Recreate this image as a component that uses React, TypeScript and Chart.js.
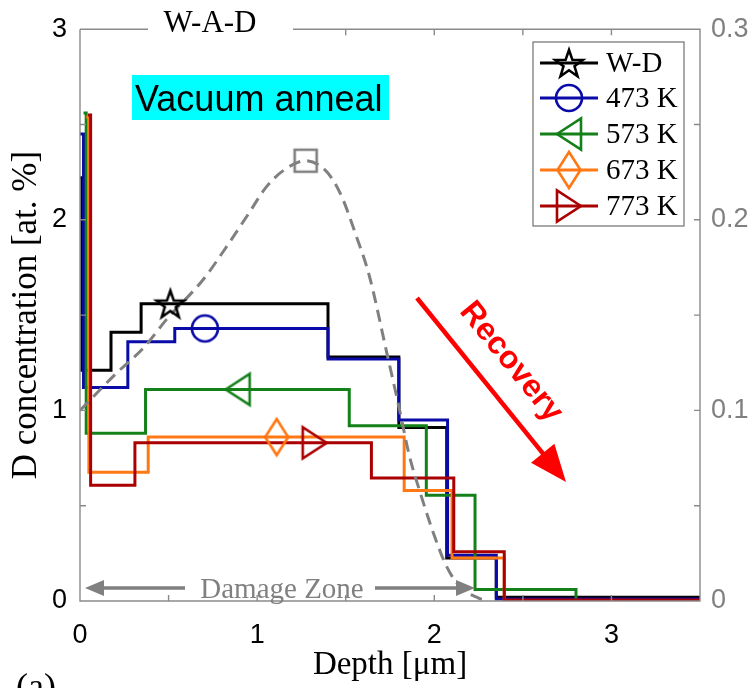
import React, { useEffect, useRef } from 'react';
import { Chart, registerables } from 'chart.js';

Chart.register(...registerables);

// ---------- data ----------
// depth bin edges [µm] and D concentration levels [at. %]
const wdEdges = [0.0, 0.01, 0.175, 0.345, 1.4, 1.8, 2.07, 2.35, 3.5];
const wdLevels = [2.22, 1.21, 1.41, 1.56, 1.28, 0.91, 0.225, 0.02];
const k473Edges = [0.0, 0.02, 0.27, 0.535, 1.4, 1.8, 2.075, 2.35, 3.5];
const k473Levels = [2.45, 1.12, 1.36, 1.43, 1.27, 0.95, 0.24, 0.01];
const k573Edges = [0.02, 0.035, 0.37, 1.52, 1.955, 2.23, 2.8, 3.5];
const k573Levels = [2.56, 0.88, 1.11, 0.92, 0.555, 0.06, 0.0];
const k673Edges = [0.035, 0.05, 0.385, 1.83, 2.1, 2.395, 3.5];
const k673Levels = [2.54, 0.675, 0.86, 0.58, 0.225, 0.0];
const k773Edges = [0.045, 0.06, 0.31, 1.645, 2.11, 2.395, 3.5];
const k773Levels = [2.55, 0.607, 0.83, 0.645, 0.258, 0.005];

const seriesNames = ['W-D', '473 K', '573 K', '673 K', '773 K'];
const seriesColors = ['#000000', '#0a0aa8', '#13801a', '#ff7814', '#aa0000'];
const markerKinds = ['star', 'circle', 'triLeft', 'diamond', 'triRight'];
const markerDepth = [0.51, 0.705, 0.89, 1.11, 1.325];
const markerConc = [1.56, 1.43, 1.11, 0.86, 0.83];

// damage profile (right axis)
const damageDepth = [0, 0.2, 0.36, 0.5, 0.69, 0.85, 0.95, 1.05, 1.15, 1.274, 1.36, 1.42, 1.48, 1.55, 1.635, 1.73, 1.8, 1.86, 1.92, 1.99, 2.07, 2.15, 2.25, 2.3];
const damageValue = [0.1, 0.119, 0.133, 0.149, 0.168, 0.189, 0.203, 0.217, 0.226, 0.231, 0.228, 0.222, 0.2117, 0.194, 0.17, 0.131, 0.102, 0.076, 0.057, 0.037, 0.018, 0.007, 0.0015, 0];
const damagePeakDepth = [1.274];
const damagePeakValue = [0.231];

const xTicks = { min: 0, max: 3.5, step: 0.5 };
const yTicks = { min: 0, max: 3, step: 0.5 };
const y2Ticks = { min: 0, max: 0.3, step: 0.05 };

const SERIF = '"Liberation Serif", "DejaVu Serif", serif';
const SANS = '"Liberation Sans", Arial, sans-serif';
const GRAY = '#808080';
const FRAME = '#8a8a8a';

function makeMarker(kind: string, color: string): HTMLCanvasElement {
  const S = 44;
  const c = document.createElement('canvas');
  c.width = S;
  c.height = S;
  const g = c.getContext('2d')!;
  g.translate(S / 2, S / 2);
  g.strokeStyle = color;
  g.lineWidth = 2.6;
  g.beginPath();
  switch (kind) {
    case 'star': {
      const R = 14.5;
      const r = R * 0.4;
      for (let i = 0; i < 10; i++) {
        const a = -Math.PI / 2 + (i * Math.PI) / 5;
        const rad = i % 2 === 0 ? R : r;
        const px = Math.cos(a) * rad;
        const py = Math.sin(a) * rad + 1.5;
        if (i === 0) g.moveTo(px, py);
        else g.lineTo(px, py);
      }
      g.closePath();
      break;
    }
    case 'circle':
      g.arc(0, 0, 13, 0, Math.PI * 2);
      break;
    case 'triLeft':
      g.moveTo(-12, 0);
      g.lineTo(12, -15.5);
      g.lineTo(12, 15.5);
      g.closePath();
      break;
    case 'triRight':
      g.moveTo(12, 0);
      g.lineTo(-12, -15.5);
      g.lineTo(-12, 15.5);
      g.closePath();
      break;
    case 'diamond':
      g.moveTo(0, -18);
      g.lineTo(11.5, 0);
      g.lineTo(0, 18);
      g.lineTo(-11.5, 0);
      g.closePath();
      break;
    case 'square':
      g.rect(-11, -11, 22, 22);
      break;
  }
  g.stroke();
  return c;
}

function stepData(edges: number[], levels: number[]) {
  const pts = levels.map((l, i) => ({ x: edges[i], y: l }));
  pts.push({ x: edges[edges.length - 1], y: levels[levels.length - 1] });
  return pts;
}

function arrowHead(ctx: CanvasRenderingContext2D, tx: number, ty: number, dx: number, dy: number, len: number, half: number) {
  const nx = -dy;
  const ny = dx;
  ctx.beginPath();
  ctx.moveTo(tx, ty);
  ctx.lineTo(tx - dx * len + nx * half, ty - dy * len + ny * half);
  ctx.lineTo(tx - dx * len - nx * half, ty - dy * len - ny * half);
  ctx.closePath();
  ctx.fill();
}

export default function App() {
  const ref = useRef<HTMLCanvasElement>(null);

  useEffect(() => {
    const canvas = ref.current!;
    const markers = markerKinds.map((k, i) => makeMarker(k, seriesColors[i]));
    const square = makeMarker('square', GRAY);

    const edgesList = [wdEdges, k473Edges, k573Edges, k673Edges, k773Edges];
    const levelsList = [wdLevels, k473Levels, k573Levels, k673Levels, k773Levels];

    const lineSets: any[] = seriesNames.map((name, i) => ({
      label: name,
      data: stepData(edgesList[i], levelsList[i]),
      borderColor: seriesColors[i],
      borderWidth: 3,
      pointRadius: 0,
      stepped: true,
      fill: false,
      yAxisID: 'y',
      order: 10 - i,
    }));

    const markerSet: any = {
      label: 'markers',
      data: markerDepth.map((x, i) => ({ x, y: markerConc[i] })),
      showLine: false,
      pointStyle: markers,
      pointRadius: 14,
      yAxisID: 'y',
      order: -1,
    };

    const damageSet: any = {
      label: 'damage',
      data: damageDepth.map((x, i) => ({ x, y: damageValue[i] })),
      borderColor: GRAY,
      borderWidth: 3,
      borderDash: [12, 7],
      pointRadius: 0,
      cubicInterpolationMode: 'monotone',
      yAxisID: 'y2',
      order: 0,
    };
    const peakSet: any = {
      label: 'peak',
      data: damagePeakDepth.map((x, i) => ({ x, y: damagePeakValue[i] })),
      showLine: false,
      pointStyle: square,
      pointRadius: 12,
      yAxisID: 'y2',
      order: -2,
    };

    const annot = {
      id: 'annot',
      afterDraw(chart: any) {
        const { ctx, chartArea: a, scales } = chart;
        const gapL = 148;
        const gapR = 293;
        ctx.save();
        // frame
        ctx.strokeStyle = FRAME;
        ctx.lineWidth = 1.4;
        ctx.beginPath();
        ctx.moveTo(a.left, a.top);
        ctx.lineTo(a.left, a.bottom);
        ctx.lineTo(a.right, a.bottom);
        ctx.lineTo(a.right, a.top);
        ctx.lineTo(gapR, a.top);
        ctx.moveTo(gapL, a.top);
        ctx.lineTo(a.left, a.top);
        ctx.stroke();
        // inward ticks
        const tl = 6;
        ctx.beginPath();
        scales.x.ticks.forEach((t: any) => {
          const px = scales.x.getPixelForValue(t.value);
          if (px <= a.left + 1 || px >= a.right - 1) return;
          ctx.moveTo(px, a.bottom);
          ctx.lineTo(px, a.bottom - tl);
          if (px < gapL || px > gapR) {
            ctx.moveTo(px, a.top);
            ctx.lineTo(px, a.top + tl);
          }
        });
        scales.y.ticks.forEach((t: any) => {
          const py = scales.y.getPixelForValue(t.value);
          if (py <= a.top + 1 || py >= a.bottom - 1) return;
          ctx.moveTo(a.left, py);
          ctx.lineTo(a.left + tl, py);
        });
        scales.y2.ticks.forEach((t: any) => {
          const py = scales.y2.getPixelForValue(t.value);
          if (py <= a.top + 1 || py >= a.bottom - 1) return;
          ctx.moveTo(a.right, py);
          ctx.lineTo(a.right - tl, py);
        });
        ctx.stroke();

        // W-A-D label
        ctx.fillStyle = '#000';
        ctx.font = `31px ${SERIF}`;
        ctx.textAlign = 'center';
        ctx.textBaseline = 'alphabetic';
        ctx.fillText('W-A-D', 210, 32);

        // Vacuum anneal box
        ctx.fillStyle = '#00ffff';
        ctx.fillRect(132, 75, 257, 45);
        ctx.fillStyle = '#000';
        ctx.font = `36px ${SANS}`;
        ctx.textAlign = 'left';
        ctx.fillText('Vacuum anneal', 135, 111);

        // Recovery arrow
        const sx = 417, sy = 298, tx = 566, ty = 482;
        const L = Math.hypot(tx - sx, ty - sy);
        const dx = (tx - sx) / L, dy = (ty - sy) / L;
        ctx.strokeStyle = '#ff0000';
        ctx.fillStyle = '#ff0000';
        ctx.lineWidth = 4.5;
        ctx.beginPath();
        ctx.moveTo(sx, sy);
        ctx.lineTo(tx - dx * 30, ty - dy * 30);
        ctx.stroke();
        arrowHead(ctx, tx, ty, dx, dy, 37, 15);
        ctx.save();
        ctx.translate(511, 362);
        ctx.rotate(Math.atan2(ty - sy, tx - sx));
        ctx.font = `bold 32px ${SANS}`;
        ctx.textAlign = 'center';
        ctx.textBaseline = 'middle';
        ctx.fillText('Recovery', 0, 0);
        ctx.restore();

        // Damage zone
        ctx.strokeStyle = GRAY;
        ctx.fillStyle = GRAY;
        ctx.lineWidth = 3.5;
        ctx.beginPath();
        ctx.moveTo(100, 588);
        ctx.lineTo(185, 588);
        ctx.moveTo(375, 588);
        ctx.lineTo(460, 588);
        ctx.stroke();
        arrowHead(ctx, 85, 588, -1, 0, 19, 8);
        arrowHead(ctx, 475, 588, 1, 0, 19, 8);
        ctx.font = `29px ${SERIF}`;
        ctx.textAlign = 'center';
        ctx.textBaseline = 'alphabetic';
        ctx.fillText('Damage Zone', 282, 598);

        // legend
        const lx = 533, ly = 42, lw = 151, lh = 184;
        ctx.fillStyle = '#fff';
        ctx.fillRect(lx, ly, lw, lh);
        ctx.strokeStyle = '#707070';
        ctx.lineWidth = 1.2;
        ctx.strokeRect(lx, ly, lw, lh);
        const rowY = [63, 98, 134, 170, 206];
        seriesNames.forEach((name, i) => {
          const y = rowY[i];
          ctx.strokeStyle = seriesColors[i];
          ctx.lineWidth = 3;
          ctx.beginPath();
          ctx.moveTo(540, y);
          ctx.lineTo(598, y);
          ctx.stroke();
          const m = markers[i];
          ctx.drawImage(m, 569 - m.width / 2, y - m.height / 2);
          ctx.fillStyle = '#000';
          ctx.font = `29px ${SERIF}`;
          ctx.textAlign = 'left';
          ctx.textBaseline = 'middle';
          ctx.fillText(name, 606, y + 1);
        });

        // panel label
        ctx.fillStyle = '#000';
        ctx.font = `36px ${SERIF}`;
        ctx.textAlign = 'left';
        ctx.textBaseline = 'alphabetic';
        ctx.fillText('(a)', 16, 698);
        ctx.restore();
      },
    };

    const intLabel = (v: any) => (Math.abs(v - Math.round(v)) < 1e-9 ? String(Math.round(v)) : '');

    const chart = new Chart(canvas, {
      type: 'line',
      data: { datasets: [...lineSets, markerSet, damageSet, peakSet] },
      options: {
        animation: false,
        responsive: false,
        maintainAspectRatio: false,
        layout: { padding: { top: 26, left: 0, right: 0, bottom: 0 } },
        plugins: { legend: { display: false }, tooltip: { enabled: false }, title: { display: false } },
        scales: {
          x: {
            type: 'linear',
            min: xTicks.min,
            max: xTicks.max,
            grid: { display: false, drawTicks: false, tickLength: 0 },
            border: { display: false },
            ticks: {
              stepSize: xTicks.step,
              autoSkip: false,
              maxRotation: 0,
              padding: 18,
              color: '#000',
              font: { family: SANS, size: 27 },
              callback: intLabel,
            },
            title: {
              display: true,
              text: 'Depth [μm]',
              color: '#000',
              font: { family: SERIF, size: 33 },
              padding: { top: 0, bottom: 3 },
            },
            afterFit: (s: any) => {
              s.height = 87;
            },
          },
          y: {
            type: 'linear',
            position: 'left',
            min: yTicks.min,
            max: yTicks.max,
            grid: { display: false, drawTicks: false, tickLength: 0 },
            border: { display: false },
            ticks: {
              stepSize: yTicks.step,
              autoSkip: false,
              padding: 13,
              color: '#000',
              font: { family: SANS, size: 27 },
              callback: intLabel,
            },
            title: {
              display: true,
              text: 'D concentration [at. %]',
              color: '#000',
              font: { family: SERIF, size: 35 },
              padding: { top: 6, bottom: 0 },
            },
            afterFit: (s: any) => {
              s.width = 80;
            },
          },
          y2: {
            type: 'linear',
            position: 'right',
            min: y2Ticks.min,
            max: y2Ticks.max,
            grid: { display: false, drawTicks: false, tickLength: 0 },
            border: { display: false },
            ticks: {
              stepSize: y2Ticks.step,
              autoSkip: false,
              padding: 11,
              color: GRAY,
              font: { family: SANS, size: 27 },
              callback: (v: any) => {
                const t = Math.round(v * 10);
                if (Math.abs(v * 10 - t) > 1e-6) return '';
                return t === 0 ? '0' : (t / 10).toString();
              },
            },
            afterFit: (s: any) => {
              s.width = 54;
            },
          },
        },
      },
      plugins: [annot],
    } as any);

    return () => chart.destroy();
  }, []);

  return (
    <div style={{ position: 'fixed', left: 0, top: 0, width: 754, height: 688, background: '#fff' }}>
      <canvas ref={ref} width={754} height={688} style={{ display: 'block', width: 754, height: 688 }} />
    </div>
  );
}
